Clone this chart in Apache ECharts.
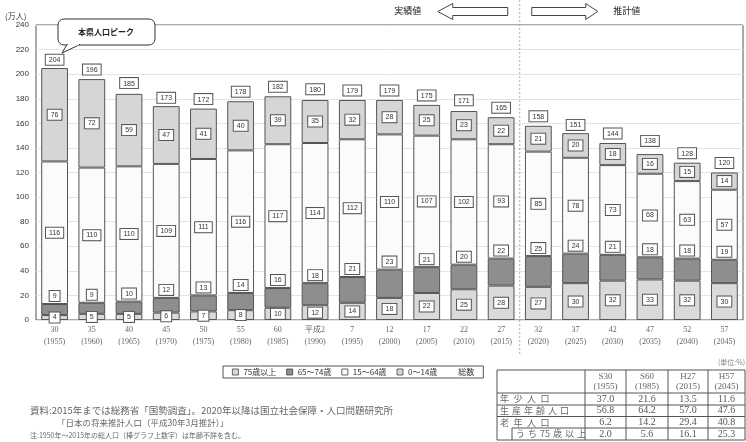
<!DOCTYPE html>
<html><head><meta charset="utf-8">
<script src="https://cdn.jsdelivr.net/npm/echarts@6/dist/echarts.min.js"></script>
<style>html,body{margin:0;padding:0;background:#fff;}#c{width:746px;height:442px;}</style>
</head><body><div id="c"></div>
<script>
const categories = ['30\n(1955)','35\n(1960)','40\n(1965)','45\n(1970)','50\n(1975)','55\n(1980)','60\n(1985)','平成2\n(1990)','7\n(1995)','12\n(2000)','17\n(2005)','22\n(2010)','27\n(2015)','32\n(2020)','37\n(2025)','42\n(2030)','47\n(2035)','52\n(2040)','57\n(2045)'];
const age75plus = [4,5,5,6,7,8,10,12,14,18,22,25,28,27,30,32,33,32,30];
const age65to74 = [9,9,10,12,13,14,16,18,21,23,21,20,22,25,24,21,18,18,19];
const age15to64 = [116,110,110,109,111,116,117,114,112,110,107,102,93,85,78,73,68,63,57];
const age0to14 = [76,72,59,47,41,40,39,35,32,28,25,23,22,21,20,18,16,15,14];
const totals = [204,196,185,173,172,178,182,180,179,179,175,171,165,158,151,144,138,128,120];
const seriesNames = ['75歳以上','65～74歳','15～64歳','0～14歳','総数'];
const yTicks = {min:0, max:240, interval:20};
const tableHeaders = [['S30','(1955)'],['S60','(1985)'],['H27','(2015)'],['H57','(2045)']];
const tableRowLabels = ['年\u2002少\u2002人\u2002口','生\u2004産\u2004年\u2004齢\u2004人\u2004口','老\u2002年\u2002人\u2002口','う\u2004ち\u200475\u2004歳\u2004以\u2004上'];
const tableValues = [[37.0,21.6,13.5,11.6],[56.8,64.2,57.0,47.6],[6.2,14.2,29.4,40.8],[2.0,5.6,16.1,25.3]];
const notes = ['資料:2015年までは総務省「国勢調査」。2020年以降は国立社会保障・人口問題研究所','「日本の将来推計人口（平成30年3月推計）」','注:1950年～2015年の総人口（棒グラフ上数字）は年齢不詳を含む。'];

const CJK = "'Noto Sans CJK JP','Noto Sans',sans-serif";
const boxLabel = {show:true, fontSize:7, color:'#333', backgroundColor:'#fff', borderColor:'#555', borderWidth:1, padding:[2,3,1,3], fontFamily:"'Liberation Sans',sans-serif"};
const barBorder = {borderColor:'#555', borderWidth:1};

const chart = echarts.init(document.getElementById('c'), null, {renderer:'canvas'});
function mkBar(name, data, color, pos, dist){
  return {name, type:'bar', stack:'pop', data, barWidth:'72%',
    itemStyle:Object.assign({color}, barBorder),
    label:Object.assign({}, boxLabel, {position:pos, distance:dist||0}),
    emphasis:{disabled:true}, z:2};
}
const option = {
  animation:false,
  grid:{left:36, right:3, top:25, bottom:122, show:true, borderColor:'#555', borderWidth:1},
  legend:{
    data:[seriesNames[0],seriesNames[1],seriesNames[2],seriesNames[3],{name:seriesNames[4], icon:'none'}],
    left:223, top:366, itemWidth:6, itemHeight:6, itemGap:10, icon:'rect',
    padding:[2,9,2,9], borderColor:'#555', borderWidth:1,
    itemStyle:{borderColor:'#444', borderWidth:0.8},
    textStyle:{fontSize:8, color:'#333', fontFamily:CJK}, selectedMode:false
  },
  xAxis:{type:'category', data:categories,
    axisLine:{show:false}, axisTick:{show:false},
    axisLabel:{fontSize:8, color:'#666', lineHeight:12, margin:4, interval:0, fontFamily:"'Liberation Serif','Noto Sans CJK JP',serif"}},
  yAxis:{type:'value', min:yTicks.min, max:yTicks.max, interval:yTicks.interval,
    axisLine:{show:false}, axisTick:{show:false},
    axisLabel:{fontSize:8, color:'#333', margin:7, fontFamily:"'Liberation Sans',sans-serif"},
    splitLine:{lineStyle:{color:'#e4e4e4', width:1}}},
  series:[
    mkBar(seriesNames[0], age75plus, '#dadada', 'inside'),
    mkBar(seriesNames[1], age65to74, '#8e8e8e', 'top', 3),
    mkBar(seriesNames[2], age15to64, '#fbfbfb', 'inside'),
    mkBar(seriesNames[3], age0to14, '#d6d6d6', 'inside'),
    {name:seriesNames[4], type:'line', data:totals, symbol:'circle', symbolSize:1,
      itemStyle:{color:'rgba(0,0,0,0)'}, lineStyle:{opacity:0, width:0}, z:5,
      label:Object.assign({}, boxLabel, {position:'top', distance:4}), emphasis:{disabled:true}}
  ]
};
chart.setOption(option);

// decorations
const x12 = chart.convertToPixel({xAxisIndex:0}, 12);
const x13 = chart.convertToPixel({xAxisIndex:0}, 13);
const dx = (x12 + x13) / 2;
const g = [];
g.push({type:'line', shape:{x1:dx, y1:0, x2:dx, y2:356}, style:{stroke:'#aaa', lineWidth:1, lineDash:[2,2]}, z:10});
g.push({type:'polygon', shape:{points:[[dx-82,11.5],[dx-67,3.5],[dx-67,7.5],[dx-12,7.5],[dx-12,15.5],[dx-67,15.5],[dx-67,19.5]]}, style:{fill:'#fff', stroke:'#444', lineWidth:1}, z:10});
g.push({type:'polygon', shape:{points:[[dx+12,7.5],[dx+66,7.5],[dx+66,3.5],[dx+78,11.5],[dx+66,19.5],[dx+66,15.5],[dx+12,15.5]]}, style:{fill:'#fff', stroke:'#444', lineWidth:1}, z:10});
g.push({type:'text', x:dx-112, y:11, style:{text:'実績値', fontSize:9, fill:'#222', fontFamily:CJK, align:'center', verticalAlign:'middle'}, z:10});
g.push({type:'text', x:dx+107, y:11, style:{text:'推計値', fontSize:9, fill:'#222', fontFamily:CJK, align:'center', verticalAlign:'middle'}, z:10});
// callout
g.push({type:'rect', shape:{x:58, y:19, width:97, height:26, r:6}, style:{fill:'#fff', stroke:'#333', lineWidth:1}, z:10});
g.push({type:'polygon', shape:{points:[[67,44.5],[62,53],[80,44.5]]}, style:{fill:'#fff', stroke:'#333', lineWidth:1}, z:11});
g.push({type:'line', shape:{x1:67.8, y1:44.5, x2:79, y2:44.5}, style:{stroke:'#fff', lineWidth:1.6}, z:12});
g.push({type:'text', x:106, y:32, style:{text:'本県人口ピーク', fontSize:8, fontWeight:'bold', fill:'#222', fontFamily:CJK, align:'center', verticalAlign:'middle'}, z:12});
// unit
g.push({type:'text', x:5, y:16, style:{text:'(万人)', fontSize:8, fill:'#333', fontFamily:CJK, verticalAlign:'middle'}, z:10});
// table
const cols = [497,585,626,668,708,745];
const rows = [370,393,405,416.5,428,440];
const lc = '#555';
g.push({type:'rect', shape:{x:cols[0], y:rows[0], width:cols[5]-cols[0], height:rows[5]-rows[0]}, style:{fill:'none', stroke:lc, lineWidth:1}, z:10});
for (let i=1;i<5;i++) g.push({type:'line', shape:{x1:cols[i], y1:rows[0], x2:cols[i], y2:rows[5]}, style:{stroke:lc, lineWidth:1}, z:10});
for (let j=1;j<4;j++) g.push({type:'line', shape:{x1:cols[0], y1:rows[j], x2:cols[5], y2:rows[j]}, style:{stroke:lc, lineWidth:1}, z:10});
g.push({type:'line', shape:{x1:512, y1:rows[4], x2:cols[5], y2:rows[4]}, style:{stroke:lc, lineWidth:1}, z:10});
g.push({type:'line', shape:{x1:512, y1:rows[4], x2:512, y2:rows[5]}, style:{stroke:lc, lineWidth:1}, z:10});
const tFont = "'Liberation Serif','Noto Sans CJK JP',serif";
tableHeaders.forEach((h,i)=>{
  const cx = (cols[i+1]+cols[i+2])/2;
  g.push({type:'text', x:cx, y:376.5, style:{text:h[0], fontSize:9, fill:'#666', fontFamily:tFont, align:'center', verticalAlign:'middle'}, z:10});
  g.push({type:'text', x:cx, y:387, style:{text:h[1], fontSize:9, fill:'#666', fontFamily:tFont, align:'center', verticalAlign:'middle'}, z:10});
});
tableRowLabels.forEach((lab,j)=>{
  const cy = (rows[j+1]+rows[j+2])/2;
  g.push({type:'text', x:(j===3?516:500), y:cy, style:{text:lab, fontSize:9, fill:'#666', fontFamily:CJK, verticalAlign:'middle'}, z:10});
  tableValues[j].forEach((v,i)=>{
    const cx = (cols[i+1]+cols[i+2])/2;
    g.push({type:'text', x:cx, y:cy, style:{text:v.toFixed(1), fontSize:10, fill:'#555', fontFamily:tFont, align:'center', verticalAlign:'middle'}, z:10});
  });
});
g.push({type:'text', x:745, y:362, style:{text:'(単位:%)', fontSize:7, fill:'#888', fontFamily:CJK, align:'right', verticalAlign:'middle'}, z:10});
// notes
g.push({type:'text', x:30, y:410, style:{text:notes[0], fontSize:9.5, fill:'#666', fontFamily:CJK, verticalAlign:'middle'}, z:10});
g.push({type:'text', x:57, y:422.5, style:{text:notes[1], fontSize:8.5, fill:'#666', fontFamily:CJK, verticalAlign:'middle'}, z:10});
g.push({type:'text', x:30, y:435, style:{text:notes[2], fontSize:7, fill:'#666', fontFamily:CJK, verticalAlign:'middle'}, z:10});
chart.setOption({graphic:g});
</script></body></html>
